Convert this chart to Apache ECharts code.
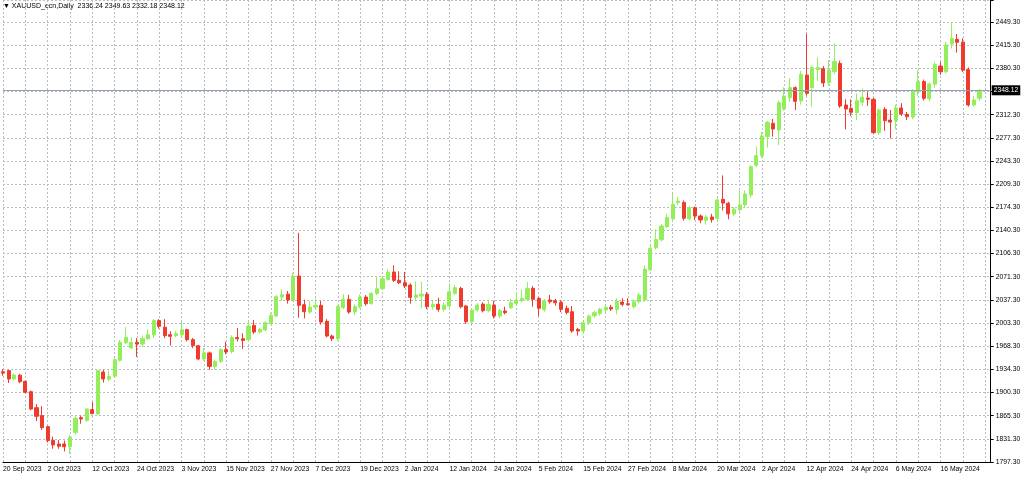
<!DOCTYPE html>
<html><head><meta charset="utf-8">
<script src="https://cdn.jsdelivr.net/npm/echarts@6/dist/echarts.min.js"></script>
<style>html,body{margin:0;padding:0;background:#fff}#c{width:1024px;height:477px}</style>
</head><body><div id="c"></div>
<script>
const opens = [1931,1932.7,1920.3,1926,1916.8,1901.5,1877.8,1866,1849.7,1829.4,1824,1824,1820,1841,1863,1858.9,1875,1868.5,1930.7,1920,
1924.4,1948,1974,1966.3,1974.6,1972,1980,1985.5,2006.8,1997,1986,1984.5,1986,1993.4,1978.6,1969.7,1950,1959,1939,1946.5,
1963.8,1961,1981.7,1980,1978.6,1999.7,1989.9,1992.8,2002.7,2013.6,2041.7,2046,2037.3,2072.9,2030.4,2019.5,2026.9,2029.4,2005.7,1984,
1980,2026.4,2038.3,2019.5,2027.4,2041.7,2032.3,2047.2,2054.1,2067.9,2078.8,2066.5,2063,2059.5,2041.3,2043.2,2045.7,2027.4,2030.9,2023.5,
2028.4,2047.2,2054.6,2028.4,2005.2,2022.5,2031.3,2021.5,2029.9,2013.6,2021,2026,2032.3,2036.3,2038.3,2054.6,2039.8,2023,2037.3,2036.3,
2033.8,2025,2020,1993.8,1991.4,2003.7,2014,2017.5,2022.5,2026.4,2023.5,2034.3,2031.8,2027.4,2034.8,2037.3,2082.2,2114.8,2126.7,2146,
2157.4,2181.6,2182,2157.9,2174,2161.8,2155.4,2160.3,2158.4,2186.6,2180.7,2165,2171,2178.3,2193,2237,2251.3,2279.4,2299.2,2289.3,
2320.9,2337.2,2352,2332.3,2370.7,2352,2378.8,2380.2,2359.5,2375.8,2388,2326.3,2321.4,2315,2330.3,2336.7,2334.7,2285.3,2319.9,2304,
2303.1,2321.9,2312.5,2308.5,2346.6,2361,2335.7,2357.1,2384,2375.6,2416.8,2423.7,2419.3,2378.8,2326.3,2336.24];
const closes = [1929,1920.3,1926.2,1916.4,1900.5,1875.8,1865,1848.2,1829,1822.5,1820.5,1820,1833.7,1862,1861,1875.8,1869,1932.7,1920.3,1924,
1949,1974.6,1982,1974.6,1972,1980,1986,2006.8,1998.4,1984.5,1983.5,1987.5,1993.4,1978.6,1969.7,1950,1959,1939,1946.5,1963.8,
1960.3,1981.7,1980,1977.5,1998.8,1989.9,1993.8,2003.7,2014.6,2042.2,2045.2,2037.3,2072.9,2029.4,2020,2026.9,2029.4,2004.7,1984,1980,
2027.4,2038.3,2019.5,2027.4,2041.7,2031.8,2047.2,2054.1,2068.9,2078.8,2066.5,2063,2058,2041.3,2044.7,2046,2027.4,2030.9,2023.5,2029.9,
2049.6,2055.5,2027.4,2005.2,2022.5,2029.9,2021.5,2030.9,2013.6,2021.5,2018.5,2033.4,2037.3,2039.8,2054.6,2038.3,2025,2036.3,2034.8,2033.3,
2023.5,2019,1991.4,1991.4,2003.7,2013.6,2018.5,2024,2026.4,2024,2035.8,2030.9,2030.4,2034.8,2044.7,2083.2,2113.8,2127.2,2147,2159.8,
2179,2184,2158.4,2174.1,2161.8,2156,2160.3,2156.5,2185.6,2181,2165,2172,2178.3,2194.5,2235,2251.3,2280.4,2300.6,2290.8,2329.8,
2339.7,2352,2331.8,2371.7,2343.6,2381.7,2381.7,2359,2378,2390.6,2324.8,2320.4,2315.5,2332.8,2337.7,2334.7,2285.3,2318.9,2303.1,2301,
2321.9,2313,2309,2346.5,2361,2336.2,2357.6,2386.5,2375.6,2415.3,2424.7,2419.3,2378,2326.3,2333.7,2348.12];
const lows = [1925,1914.4,1918,1914,1899,1874,1858,1845,1826,1817,1817,1813,1809,1838,1854,1857,1868,1867,1915,1917,
1923,1946,1972,1965,1953,1968,1978,1981,1995,1981,1970,1982,1983,1976,1966,1948,1947,1934,1934,1944,
1957,1958,1976,1965,1975,1987,1988,1991,2001,2012,2036,2032,2035,2011,2010,2017,2024,2001,1982,1976.5,
1977,2024,2017,2015,2025,2029,2030,2045,2052,2066,2064,2061,2055,2032,2036,2025,2024,2023,2020,2020,
2026,2045,2025,2002,2003,2020,2019,2019,2010,2010,2016,2024,2030,2034,2036,2027.4,2013.6,2020,2032,2029,
2019.5,2016,1989,1984.5,1987,2000,2011,2014,2019,2021,2016,2028,2029,2025,2032,2035,2080,2112,2124,2144,
2155,2178,2155,2155,2156,2151,2149,2152,2155,2170,2157,2162,2168,2175,2189,2234,2248,2263.5,2279.4,2267,
2318,2331,2318.9,2327,2340,2323.8,2362,2353,2355,2372,2322,2290.2,2310,2304.1,2325,2325,2283,2282,2288,2276.8,
2290,2310,2304,2305,2340,2333,2332,2352,2371,2373,2410,2404,2375,2324,2324,2332.18];
const highs = [1935,1934,1929,1928,1918,1903,1883,1880,1851,1835,1830,1829,1837,1865,1866,1877,1886,1933,1934,1933,
1951,1978,1997,1982,1981,1985,1994,2009,2009,2009,1991,1991,2005,1995,1981,1971,1966,1961,1949,1966,
1975.6,1985,1996,1988,2005,2007.7,1996,2006,2018,2045,2053,2050.6,2077.8,2137,2038,2036,2040,2036,2009,1986,
2030,2046,2045,2031,2045.7,2044.7,2049,2072.9,2071,2083,2088.7,2080,2079,2062,2064.5,2064.5,2049,2036,2040.7,2034,
2062,2059.5,2057,2030,2025,2033,2034,2038,2036,2024,2027.4,2039,2049.6,2053,2064,2058,2042,2039,2044.7,2039,
2037,2029,2028.4,1996,2006,2016,2021,2026,2030,2030,2040,2040,2040,2038,2048,2089,2118,2142,2150,2165,
2195.4,2190,2185,2177,2176,2164,2163,2165,2188,2222,2183,2175,2200,2200,2237,2264.6,2286.8,2303,2305.6,2333,
2352.5,2365.8,2354,2377,2432,2385,2397,2384,2393,2417.7,2392,2334.7,2334.7,2343.6,2351,2346,2337,2321,2323,2319,
2327,2329,2316,2350,2378.3,2364,2360,2390.6,2390.6,2420,2448.8,2431.4,2425,2382,2340,2349.63];
const yTickLabels = ['1797.30','1831.30','1865.30','1900.30','1934.30','1968.30','2003.30','2037.30','2071.30','2106.30',
'2140.30','2174.30','2209.30','2243.30','2277.30','2312.30','2346.30','2380.30','2415.30','2449.30'];
const holidays = ['2023-12-25','2024-01-01','2024-03-29'];
const lastPrice = 2348.12;
const headerText = '\u25BC XAUUSD_ecn,Daily  2336.24 2349.63 2332.18 2348.12';

const MON = ['Jan','Feb','Mar','Apr','May','Jun','Jul','Aug','Sep','Oct','Nov','Dec'];
const dates = [];
let d = new Date(Date.UTC(2023, 8, 20));
while (dates.length < opens.length) {
  const wd = d.getUTCDay();
  const iso = d.toISOString().slice(0,10);
  if (wd !== 0 && wd !== 6 && holidays.indexOf(iso) < 0)
    dates.push(d.getUTCDate() + ' ' + MON[d.getUTCMonth()] + ' ' + d.getUTCFullYear());
  d = new Date(d.getTime() + 86400000);
}
const cats = dates.concat(['', '']);
const candles = opens.map((o, i) => [o, closes[i], lows[i], highs[i]]);

const YMIN = 1797.3, STEP = 652 / 19;
const chart = echarts.init(document.getElementById('c'));
chart.setOption({
  animation: false,
  backgroundColor: '#ffffff',
  grid: { left: -0.5, right: 33.3, top: 0, bottom: 15 },
  graphic: [{ type: 'text', left: 3, top: 3, style: { text: headerText, font: '7px "Liberation Sans"', fill: '#000' } }],
  xAxis: {
    type: 'category', data: cats, boundaryGap: false,
    axisLine: { show: true, lineStyle: { color: '#000', width: 1 } },
    axisTick: { show: false },
    axisLabel: { interval: (i) => i % 8 === 0 && i < dates.length, align: 'left', margin: 4,
      fontSize: 6.8, fontFamily: 'Liberation Sans', color: '#000' },
    splitLine: { show: true, interval: (i) => i % 4 === 0, lineStyle: { color: '#b8bcc4', type: [2, 2], width: 1 } }
  },
  yAxis: {
    type: 'value', position: 'right', min: YMIN, max: YMIN + STEP * 20 - 1.7, interval: STEP, scale: true,
    axisLine: { show: true, lineStyle: { color: '#000', width: 1 } },
    axisTick: { show: true, length: 3, lineStyle: { color: '#000' } },
    axisLabel: { margin: 5, fontSize: 6.8, fontFamily: 'Liberation Sans', color: '#000',
      formatter: (v) => { const k = Math.round((v - YMIN) / STEP); return yTickLabels[k] || ''; } },
    splitLine: { show: true, lineStyle: { color: '#b8bcc4', type: [2, 2], width: 1 } }
  },
  series: [{
    type: 'candlestick', data: candles, barWidth: 3.6,
    itemStyle: { color: '#92ef5a', color0: '#ee3b2d', borderColor: '#92ef5a', borderColor0: '#ee3b2d', borderWidth: 1 },
    markLine: {
      symbol: ['none', 'none'], silent: true, animation: false,
      lineStyle: { color: '#94a3b4', type: 'solid', width: 1 },
      label: { position: 'end', formatter: lastPrice.toFixed(2), color: '#fff', backgroundColor: '#000',
        fontSize: 6.8, fontFamily: 'Liberation Sans', padding: [2, 2, 1, 2], distance: 1 },
      data: [{ yAxis: lastPrice }]
    }
  }]
});
</script></body></html>
